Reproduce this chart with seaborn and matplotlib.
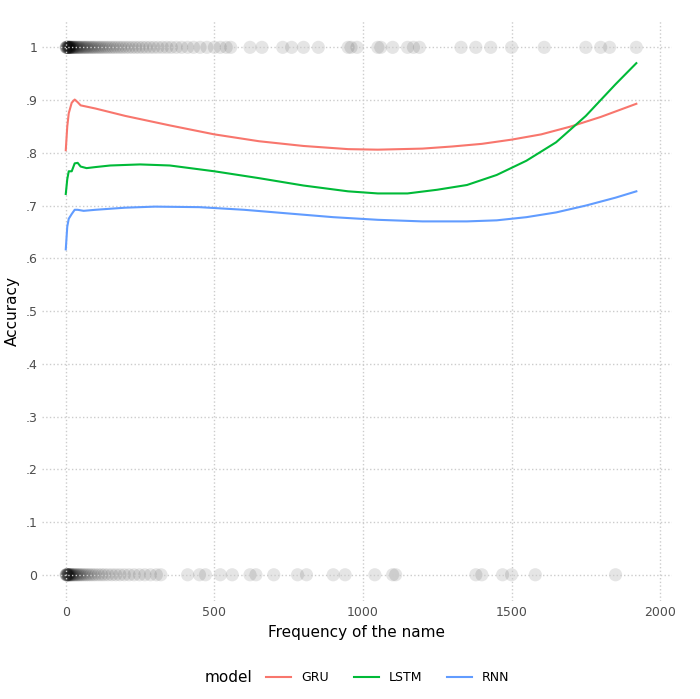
import pandas as pd
import seaborn as sns
import matplotlib.pyplot as plt
from matplotlib.offsetbox import HPacker

# Observed correctness per name (1 = correct, 0 = wrong), x = frequency
freq_ok = [1, 2, 3, 4, 5, 6, 7, 8, 9, 10, 11, 12, 13, 14, 15, 16, 18, 20, 22, 24, 26, 28,
           30, 33, 36, 39, 42, 45, 48, 52, 56, 60, 64, 68, 72, 77, 82, 87, 92, 97, 103,
           109, 115, 121, 128, 135, 142, 150, 158, 166, 175, 184, 193, 203, 213, 224,
           235, 246, 258, 270, 283, 296, 310, 325, 340, 355, 372, 390, 410, 430, 452,
           475, 500, 520, 540, 555, 620, 660, 730, 760, 800, 850, 950, 960, 980, 1050,
           1060, 1100, 1150, 1170, 1190, 1330, 1380, 1430, 1500, 1610, 1750, 1800, 1830,
           1920]
freq_bad = [1, 2, 3, 4, 5, 6, 7, 8, 9, 10, 12, 14, 16, 18, 20, 23, 26, 29, 32, 36, 40,
            44, 48, 53, 58, 64, 70, 77, 84, 92, 100, 110, 120, 130, 142, 155, 168, 182,
            197, 213, 230, 248, 266, 285, 305, 320, 410, 450, 470, 520, 560, 620, 640,
            700, 780, 810, 900, 940, 1040, 1100, 1110, 1380, 1400, 1470, 1500, 1580, 1850]

# Smoothed accuracy curves per model
gru_x = [0, 5, 10, 20, 30, 40, 50, 100, 200, 350, 500, 650, 800, 950, 1050, 1200, 1300,
         1400, 1500, 1600, 1700, 1800, 1920]
gru_y = [0.805, 0.85, 0.875, 0.895, 0.901, 0.896, 0.89, 0.884, 0.87, 0.852, 0.835, 0.822,
         0.813, 0.807, 0.806, 0.808, 0.812, 0.817, 0.825, 0.835, 0.85, 0.868, 0.893]
lstm_x = [0, 5, 10, 20, 30, 40, 50, 70, 100, 150, 250, 350, 500, 650, 800, 950, 1050,
          1150, 1250, 1350, 1450, 1550, 1650, 1750, 1850, 1920]
lstm_y = [0.722, 0.75, 0.765, 0.765, 0.78, 0.781, 0.774, 0.771, 0.773, 0.776, 0.778,
          0.776, 0.765, 0.752, 0.738, 0.727, 0.723, 0.723, 0.73, 0.739, 0.758, 0.785,
          0.82, 0.87, 0.93, 0.97]
rnn_x = [0, 5, 10, 20, 30, 40, 60, 100, 200, 300, 450, 600, 750, 900, 1050, 1200, 1350,
         1450, 1550, 1650, 1750, 1850, 1920]
rnn_y = [0.617, 0.66, 0.675, 0.684, 0.692, 0.692, 0.69, 0.692, 0.696, 0.698, 0.697,
         0.692, 0.685, 0.678, 0.673, 0.670, 0.67, 0.672, 0.678, 0.687, 0.70, 0.715, 0.727]

pts = pd.DataFrame({"freq": freq_ok + freq_bad,
                    "acc": [1] * len(freq_ok) + [0] * len(freq_bad)})
curves = pd.concat([
    pd.DataFrame({"freq": gru_x, "acc": gru_y, "model": "GRU"}),
    pd.DataFrame({"freq": lstm_x, "acc": lstm_y, "model": "LSTM"}),
    pd.DataFrame({"freq": rnn_x, "acc": rnn_y, "model": "RNN"}),
])

fig, ax = plt.subplots(figsize=(7, 6.99), dpi=100)
sns.scatterplot(data=pts, x="freq", y="acc", color="black", alpha=0.1, s=90,
                edgecolor="none", ax=ax, legend=False)
sns.lineplot(data=curves, x="freq", y="acc", hue="model",
             palette={"GRU": "#F8766D", "LSTM": "#00BA38", "RNN": "#619CFF"},
             linewidth=1.5, ax=ax)

ax.set_xlim(-80, 2040)
ax.set_ylim(-0.05, 1.05)
ax.set_xticks([0, 500, 1000, 1500, 2000])
ax.set_yticks([i / 10 for i in range(11)])
ax.set_yticklabels(["0"] + [f".{i}" for i in range(1, 10)] + ["1"])
ax.tick_params(length=0, labelsize=9, colors="#4d4d4d")
ax.grid(True, linestyle=":", color="#cccccc", linewidth=1)
for s in ax.spines.values():
    s.set_visible(False)
ax.set_xlabel("Frequency of the name", fontsize=11)
ax.set_ylabel("Accuracy", fontsize=11)

handles, labels = ax.get_legend_handles_labels()
ax.legend(handles, labels, title="model", loc="upper center", bbox_to_anchor=(0.5, -0.1),
          ncol=3, frameon=False, fontsize=9, title_fontsize=11)
box = ax.get_legend()._legend_box
box._children = [HPacker(children=box.get_children(), align="center", pad=0, sep=10)]

plt.subplots_adjust(left=0.06, right=0.96, top=0.97, bottom=0.14)
plt.savefig("out.png", dpi=100)
